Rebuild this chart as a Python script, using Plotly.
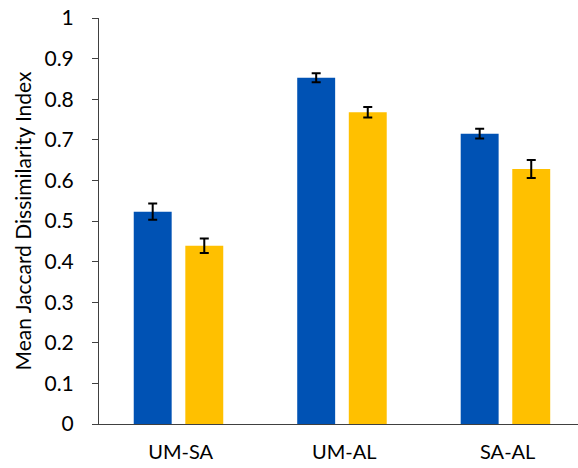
import plotly.graph_objects as go

# Pairwise comparisons and their mean Jaccard dissimilarity
categories = ["UM-SA", "UM-AL", "SA-AL"]
series_a = [0.523, 0.853, 0.715]
series_a_err = [0.020, 0.011, 0.012]
series_b = [0.439, 0.768, 0.628]
series_b_err = [0.018, 0.013, 0.022]
y_ticks = [0, 0.1, 0.2, 0.3, 0.4, 0.5, 0.6, 0.7, 0.8, 0.9, 1]
y_tick_text = ["0", "0.1", "0.2", "0.3", "0.4", "0.5", "0.6", "0.7", "0.8", "0.9", "1"]

FONT = "Lato, 'Open Sans', sans-serif"
BLUE = "#0052B4"
AMBER = "#FFC000"

fig = go.Figure()
fig.add_trace(go.Bar(
    x=categories, y=series_a, width=0.232, offset=-0.2875,
    marker=dict(color=BLUE, line=dict(width=0)),
    error_y=dict(type="data", array=series_a_err, color="black", thickness=2, width=4.5),
    showlegend=False,
))
fig.add_trace(go.Bar(
    x=categories, y=series_b, width=0.232, offset=0.028,
    marker=dict(color=AMBER, line=dict(width=0)),
    error_y=dict(type="data", array=series_b_err, color="black", thickness=2, width=4.5),
    showlegend=False,
))

fig.update_layout(
    width=578, height=468,
    margin=dict(l=99, r=0, t=18, b=44),
    paper_bgcolor="white", plot_bgcolor="white",
    font=dict(family=FONT, size=20, color="black"),
    barmode="overlay",
    xaxis=dict(
        range=[-0.5, 2.43], showgrid=False, zeroline=False,
        showline=True, linecolor="#404040", linewidth=1,
        ticks="", tickfont=dict(size=20), ticklabelstandoff=10,
    ),
    yaxis=dict(
        range=[0, 1], tickvals=y_ticks, ticktext=y_tick_text,
        showgrid=False, zeroline=False,
        showline=True, linecolor="#404040", linewidth=1,
        ticks="outside", ticklen=6, tickcolor="#404040",
        tickfont=dict(size=21), ticklabelstandoff=14,
        title=dict(text="Mean Jaccard Dissimilarity Index", font=dict(size=21), standoff=7),
    ),
)

fig.write_html("out.html")
